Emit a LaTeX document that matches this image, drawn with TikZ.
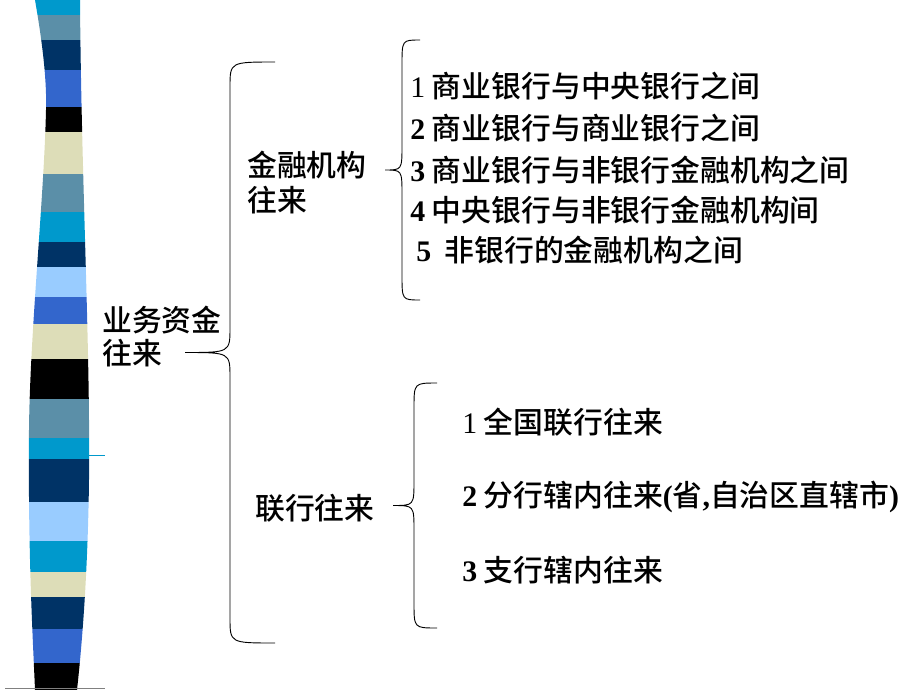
\documentclass[tikz,border=0pt]{standalone}
\usepackage{fontspec}
\setmainfont{Liberation Serif}
\newfontfamily\cjk{Noto Sans CJK SC Medium}
\definecolor{cyanb}{HTML}{0099CC}
\definecolor{steelb}{HTML}{5B8FA8}
\definecolor{navyb}{HTML}{003366}
\definecolor{royalb}{HTML}{3366CC}
\definecolor{beigeb}{HTML}{DDDDB8}
\definecolor{lightb}{HTML}{99CCFF}
\tikzset{
  txt/.style={anchor=west,inner sep=0pt,font=\fontsize{22.5}{27}\selectfont\cjk},
  item/.style={txt},
  brace/.style={line width=0.7pt}
}
\newcommand{\bracepath}[5]{% tip x, spine x, point x, top y, bottom y
  \pgfmathsetmacro\ym{(#4+#5)/2}
  \draw[brace] (#1,#4) .. controls (#2,#4) .. (#2,#4+25) -- (#2,\ym-25)
    .. controls (#2,\ym) .. (#3,\ym) .. controls (#2,\ym) .. (#2,\ym+25)
    -- (#2,#5-25) .. controls (#2,#5) .. (#1,#5);}
\newcommand{\dg}[1]{{\rmfamily\bfseries #1}}
\begin{document}
\begin{tikzpicture}[x=0.0265cm,y=-0.0265cm]
  \useasboundingbox (0,0) rectangle (920,690);
  % striped bar
  \begin{scope}
    \clip (35,0) .. controls (42,40) and (47,80) .. (46,110)
      .. controls (44,200) and (30,330) .. (29,430) .. controls (28,560) and (33,640) .. (35,690)
      -- (77,690) .. controls (87,600) and (90,500) .. (89,420)
      .. controls (88,300) and (81,150) .. (80,0) -- cycle;
    \foreach \ya/\yb/\c in {0/15/cyanb,15/40/steelb,40/70/navyb,70/107/royalb,
      107/132/black,132/174/beigeb,174/212/steelb,212/242/cyanb,242/267/navyb,
      267/297/lightb,297/324/royalb,324/359/beigeb,359/399/black,399/438/steelb,
      438/459/cyanb,459/502/navyb,502/541/lightb,541/572/cyanb,572/597/beigeb,
      597/629/navyb,629/663/royalb,663/690/black}
      \fill[\c] (0,\ya) rectangle (120,\yb);
  \end{scope}
  \draw[cyanb,line width=0.6pt] (89,455) -- (105,455);
  \draw[gray,line width=0.6pt] (5,688) -- (105,688);
  % braces
  \bracepath{275}{230}{185}{62}{643}
  \bracepath{420}{402}{385}{40}{300}
  \bracepath{437}{414}{393}{383}{628}
  % labels
  \node[txt] (root) at (102,320) {业务资金};
  \node[txt] (root2) at (102,353) {往来};
  \node[txt] (fin) at (247,165) {金融机构};
  \node[txt] (fin2) at (247,200) {往来};
  \node[txt] (lh) at (255,508) {联行往来};
  \node[item] (f1) at (410,86) {{\rmfamily 1} 商业银行与中央银行之间};
  \node[item] (f2) at (410,128) {\dg{2} 商业银行与商业银行之间};
  \node[item] (f3) at (410,170) {\dg{3} 商业银行与非银行金融机构之间};
  \node[item] (f4) at (410,210) {\dg{4} 中央银行与非银行金融机构间};
  \node[item] (f5) at (416,250) {\dg{5}\ \ 非银行的金融机构之间};
  \node[item] (l1) at (462,422) {{\rmfamily 1} 全国联行往来};
  \node[item] (l2) at (462,497) {\dg{2} 分行辖内往来\dg{(}省\dg{,}自治区直辖市\dg{)}};
  \node[item] (l3) at (462,570) {\dg{3} 支行辖内往来};
\end{tikzpicture}
\end{document}
